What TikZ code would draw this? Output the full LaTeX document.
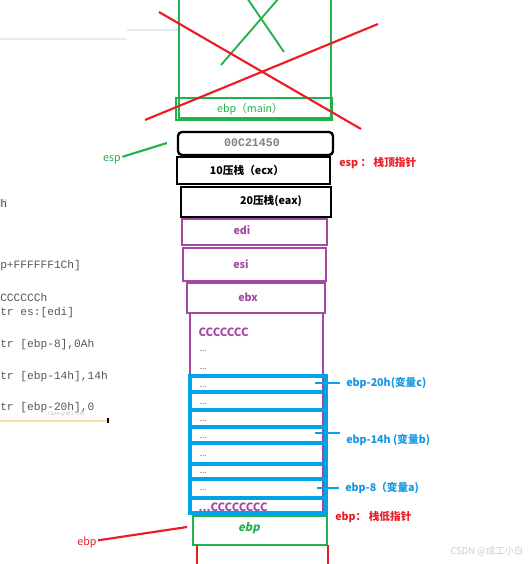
\documentclass[tikz,border=0pt]{standalone}
\usepackage{fontspec}
\newfontfamily\cjk{Noto Sans CJK SC}
\newfontfamily\cjkslant[FakeSlant=0.2]{Noto Sans CJK SC}
\newfontfamily\codefont{Liberation Mono}
\usepackage{tikz}
\usetikzlibrary{arrows.meta,positioning,calc}

\definecolor{paintgreen}{RGB}{34,177,76}
\definecolor{paintred}{RGB}{237,28,36}
\definecolor{paintpurple}{RGB}{163,73,164}
\definecolor{paintblue}{RGB}{0,162,232}
\definecolor{labelblue}{RGB}{20,150,225}
\definecolor{codegray}{RGB}{85,85,85}
\definecolor{faintline}{RGB}{232,234,240}
\definecolor{faintorange}{RGB}{250,222,165}

\begin{document}
\begin{tikzpicture}[x=0.75pt,y=-0.75pt,
  every node/.style={inner sep=1pt,font=\cjk\fontsize{8}{9.6}\selectfont},
  blackcell/.style={draw=black,line width=2.1pt},
  purplecell/.style={draw=paintpurple,line width=1.6pt},
  bluecell/.style={draw=paintblue,line width=2.3pt},
  greencell/.style={draw=paintgreen,line width=1.8pt},
  celltext/.style={font=\cjk\bfseries\fontsize{8}{9.6}\selectfont},
  purpletext/.style={anchor=west,text=paintpurple,font=\cjk\bfseries\fontsize{8.5}{10}\selectfont},
  dotstext/.style={anchor=west,text=paintpurple,font=\cjk\fontsize{6.5}{8}\selectfont},
  codeline/.style={anchor=west,inner sep=0pt,text=codegray,font=\codefont\fontsize{8.4}{10}\selectfont},
  ptrlabel/.style={anchor=west,inner xsep=4.5pt,font=\cjk\bfseries\fontsize{8}{9.6}\selectfont},
]
  \useasboundingbox (0,0) rectangle (531,564);
  \clip (0,0) rectangle (531,564);

  % 左侧截图残留的汇编代码
  \draw[faintline,line width=1pt] (0,39) -- (127,39); % 淡灰分隔线
  \draw[faintline,line width=1pt] (127,30) -- (180,30); % 淡灰分隔线
  \node[codeline,fill=gray!15] (code0) at (0,203) {h};
  \node[codeline] (code1) at (0,266) {p+FFFFFF1Ch]};
  \node[codeline] (code2) at (0,297) {CCCCCCh};
  \node[codeline] (code3) at (0,313) {tr es:[edi]};
  \node[codeline] (code4) at (0,345) {tr [ebp-8],0Ah};
  \node[codeline] (code5) at (0,377) {tr [ebp-14h],14h};
  \node[codeline] (code6) at (0,408) {tr [ebp-20h],0};
  \node[text=gray!50,font=\cjk\fontsize{3.5}{4}\selectfont] (mark0) at (66,414) {CSDN @成工小白};
  \draw[faintorange,line width=1.2pt] (0,421) -- (107,421); % 代码区下边线
  \draw[black,line width=1.6pt] (108,418) -- (108,423); % 光标

  % main 的栈帧（已作废）
  \draw[greencell,line width=1.4pt] (179,-5) rectangle (331,118); % main 栈帧外框
  \draw[greencell,line width=2.2pt] (176,98) rectangle (332,120); % ebp(main)
  \node[text=paintgreen] (ebpmain) at (250,109) {ebp（main）};
  \draw[paintgreen,line width=1.4pt] (247,-2) -- (284,52); % 绿色叉
  \draw[paintgreen,line width=1.4pt] (279,-2) -- (221,65); % 绿色叉

  % 压栈部分
  \draw[blackcell,line width=1.8pt,rounded corners=3pt] (178,132) rectangle (333,155); % 返回地址
  \node[text=gray,font=\codefont\bfseries\fontsize{8.7}{10}\selectfont] (retaddr) at (252,143) {00C21450};
  \draw[blackcell] (177,157) rectangle (330,184); % 10 压栈
  \node[celltext] (push10) at (247,170) {10压栈（ecx）};
  \draw[blackcell] (181,187) rectangle (331,217); % 20 压栈
  \node[celltext] (push20) at (271,201) {20压栈(eax)};
  \draw[purplecell] (182,219) rectangle (327,245); % edi
  \node[celltext,text=paintpurple] (edi) at (242,230) {edi};
  \draw[purplecell] (183,248) rectangle (326,281); % esi
  \node[celltext,text=paintpurple] (esi) at (241,264) {esi};
  \draw[purplecell] (187,283) rectangle (325,313); % ebx
  \node[celltext,text=paintpurple] (ebx) at (248,297) {ebx};

  % 局部变量区（CCCCCCCC 填充）
  \draw[purplecell] (190,313) rectangle (323,513); % 局部变量区外框
  \foreach \ya/\yb in {376/392,392/410,410/427,427/443,443/464,464/479,479/498,498/513}
    \draw[bluecell] (190,\ya) rectangle (326,\yb); % 每个 4 字节格子
  \node[purpletext] (fillc) at (197,332) {CCCCCCC};
  \foreach \yy in {351,369,387,404,421,438,456,473,490}
    \node[dotstext] (dot\yy) at (198,\yy) {...};
  \node[purpletext] (filllast) at (197,507) {...CCCCCCCC};

  % ebp 所在格子
  \draw[greencell] (193,516) rectangle (327,545); % ebp
  \node[text=paintgreen,font=\cjkslant\bfseries\fontsize{8.5}{10}\selectfont] (ebpcell) at (249,528) {ebp};
  \draw[paintred,line width=1.6pt] (197,545) -- (197,566); % 下一个栈帧
  \draw[paintred,line width=1.6pt] (328,545) -- (328,566); % 下一个栈帧

  % 红色大叉
  \draw[paintred,line width=1.6pt] (159,12) -- (361,129);
  \draw[paintred,line width=1.6pt] (145,120) -- (378,24);

  % 右侧说明
  \node[ptrlabel,inner xsep=0pt,text=paintred] (esptop) at (339,163) {esp ： 栈顶指针};
  \node[ptrlabel,inner xsep=0pt,text=paintred] (ebpbot) at (335,517) {ebp： 栈低指针};
  \coordinate (varc) at (315,383);
  \coordinate (varb) at (315,433);
  \coordinate (vara) at (317,488);
  \node[ptrlabel,text=labelblue] (labc) at (340,383) {ebp-20h(变量c)};
  \node[ptrlabel,text=labelblue,anchor=north west] (labb) at (340,433) {ebp-14h (变量b)};
  \node[ptrlabel,text=labelblue] (laba) at (339,488) {ebp-8（变量a)};
  \draw[paintblue,line width=1.6pt] (varc) -- (labc.west);
  \draw[paintblue,line width=1.6pt] (varb) -- (labb.north west);
  \draw[paintblue,line width=1.6pt] (vara) -- (laba.west);

  % 左侧指针
  \node[text=paintgreen] (esplab) at (112,160) {esp};
  \coordinate (esptip) at (167,143);
  \draw[paintgreen,line width=1.6pt] (esplab) -- (esptip);
  \node[text=paintred] (ebplab) at (87,542) {ebp};
  \coordinate (ebptip) at (187,527);
  \draw[paintred,line width=1.6pt] (ebplab) -- (ebptip);

  % 水印
  \node[text=gray!40,font=\cjk\fontsize{7}{8}\selectfont] (mark1) at (487,551) {CSDN @成工小白};
\end{tikzpicture}
\end{document}
